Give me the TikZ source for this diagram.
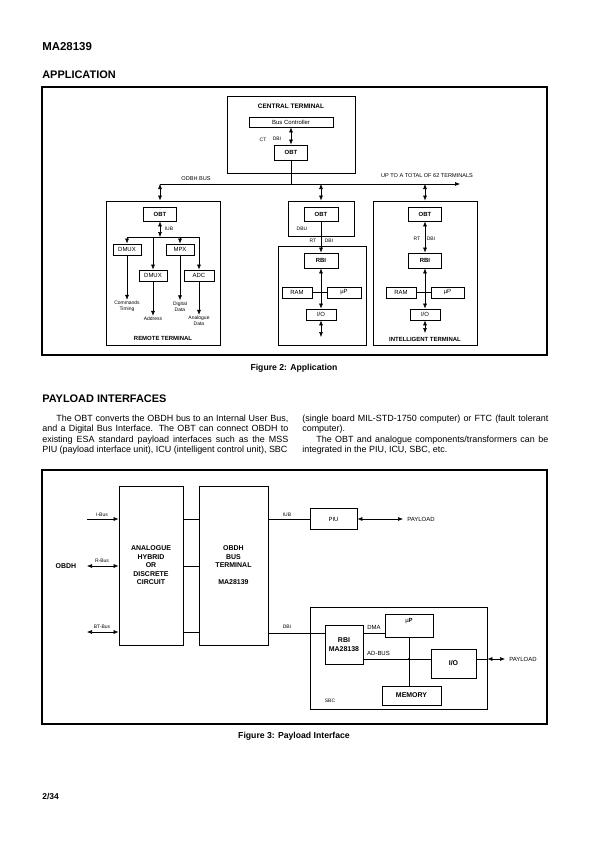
\documentclass[tikz,border=0pt]{standalone}
\usepackage{fontspec}
\setmainfont{Liberation Sans}
\usetikzlibrary{arrows.meta}

\tikzset{
  box/.style={draw, line width=0.8bp, inner sep=0pt},
  sz/.style 2 args={minimum width=#1bp, minimum height=#2bp},
  lbl/.style={inner sep=0pt, font=\fontsize{5}{6}\selectfont},
  buslbl/.style={inner sep=0pt, font=\fontsize{5.6}{6}\selectfont},
  tag/.style={inner sep=0pt, font=\fontsize{6}{7}\selectfont},
  btag/.style={inner sep=0pt, font=\fontsize{6}{7}\selectfont\bfseries},
  bigtag/.style={inner sep=0pt, font=\fontsize{7}{8.5}\selectfont\bfseries},
  ttl/.style={inner sep=0pt, anchor=west, font=\fontsize{11}{13}\selectfont\bfseries},
  figcap/.style={inner sep=0pt, font=\fontsize{8.7}{10}\selectfont\bfseries},
  txt/.style={inner sep=0pt, anchor=base west, text width=246bp, align=justify, font=\fontsize{9}{10.4}\selectfont},
  frame/.style={draw, line width=1.6bp},
  >={Latex[length=5bp,width=4bp]}
}

\begin{document}
\begin{tikzpicture}[x=1bp, y=-1bp, line width=0.6bp]
\useasboundingbox (0,0) rectangle (595,842);
\node[ttl, font=\fontsize{11.5}{13}\selectfont\bfseries] (head) at (42,47) {MA28139};
\node[ttl] (app) at (42,75) {APPLICATION};
\draw[frame] (42,87) rectangle (547,355);

\node[box, sz={128}{77}] (ct) at (291,134.5) {};
\node[btag, font=\fontsize{6.5}{7}\selectfont\bfseries] (ctl) at (291,106) {CENTRAL TERMINAL};
\node[box, sz={84}{10}, tag] (bc) at (291,122) {Bus Controller};
\node[box, sz={33}{15}, btag] (obtc) at (291,152.5) {OBT};
\draw[<->] (bc) -- (obtc);
\node[lbl] (ctc) at (263,139.5) {CT};
\node[lbl] (ctd) at (277,138.5) {DBI};
\coordinate (busl) at (160,184);
\coordinate (busr) at (460,184);
\draw (obtc) -- (obtc.south |- busl);
\draw[->] (busl) -- (busr);
\node[buslbl] (busn) at (196,178.5) {ODBH BUS};
\node[buslbl] (upto) at (427,176) {UP TO A TOTAL OF 62 TERMINALS};

\node[box, sz={114}{144}] (rt) at (163,273) {};
\node[box, sz={33}{14}, btag] (obtr) at (160,214) {OBT};
\draw[<->] (busl) -- (busl |- rt.north);
\coordinate (iub) at (160,237);
\draw[<->] (obtr) -- (iub);
\node[lbl] (iubl) at (169,229) {IUB};
\node[box, sz={28}{11}, tag] (dmuxa) at (127,249.5) {DMUX};
\node[box, sz={28}{11}, tag] (mpx) at (180,249.5) {MPX};
\node[box, sz={28}{11}, tag] (dmuxb) at (153,275.5) {DMUX};
\node[box, sz={30}{11}, tag] (adc) at (199,275.5) {ADC};
\draw (dmuxa.north |- iub) -- (adc.north |- iub);
\draw[->] (dmuxa.north |- iub) -- (dmuxa);
\draw[->] (dmuxb.north |- iub) -- (dmuxb);
\draw[->] (mpx.north |- iub) -- (mpx);
\draw[->] (adc.north |- iub) -- (adc);
\node[lbl, align=center, inner sep=1bp] (cmd) at (127,306.5) {Commands\\Timing};
\node[lbl, inner sep=1bp] (addr) at (153,319) {Address};
\node[lbl, align=center, inner sep=1bp] (digd) at (180,306.5) {Digital\\Data};
\node[lbl, align=center, inner sep=1bp] (anad) at (199,321) {Analogue\\Data};
\draw[->] (dmuxa) -- (cmd);
\draw[->] (dmuxb) -- (addr);
\draw[->] (mpx) -- (digd);
\draw[->] (adc) -- (anad);
\node[btag] (rtl) at (163,338.5) {REMOTE TERMINAL};

\node[box, sz={66}{35}] (mu) at (321,218.5) {};
\node[box, sz={34}{14}, btag] (obtm) at (321,214) {OBT};
\node[lbl] (dbu) at (302,228.5) {DBU};
\draw[<->] (busl -| obtm) -- (mu.north);
\node[box, sz={88}{99}] (ml) at (322,295.5) {};
\node[box, sz={34}{15}, btag] (rbim) at (321,260.5) {RBI};
\draw[->] (obtm) -- (rbim);
\node[lbl] (rtm) at (313,241) {RT};
\node[lbl] (dbim) at (329,241) {DBI};
\node[box, sz={30}{11}, tag] (ramm) at (297,292.5) {RAM};
\node[box, sz={34}{11}, tag] (upm) at (344,292.5) {µP};
\node[box, sz={30}{11}, tag] (iom) at (321,314.5) {I/O};
\draw (ramm) -- (upm);
\draw[<->] (rbim) -- (iom);
\coordinate (iomx) at (321,337);
\draw[<->] (iom) -- (iomx);

\node[box, sz={104}{144}] (it) at (425,273) {};
\node[box, sz={33}{14}, btag] (obti) at (425,214) {OBT};
\draw[<->] (busl -| obti) -- (it.north);
\node[box, sz={33}{15}, btag] (rbii) at (425,260.5) {RBI};
\draw[<->] (obti) -- (rbii);
\node[lbl] (rti) at (417,239) {RT};
\node[lbl] (dbii) at (431,239) {DBI};
\node[box, sz={30}{11}, tag] (rami) at (401,292.5) {RAM};
\node[box, sz={33}{11}, tag] (upi) at (447.5,292.5) {µP};
\node[box, sz={30}{11}, tag] (ioi) at (425,314.5) {I/O};
\draw (rami) -- (upi);
\draw[<->] (rbii) -- (ioi);
\coordinate (ioix) at (425,333);
\draw[<->] (ioi) -- (ioix);
\node[btag] (itl) at (425,339.5) {INTELLIGENT TERMINAL};

\node[figcap] (fig2) at (294,368) {Figure 2: Application};
\node[ttl] (pay) at (42,399) {PAYLOAD INTERFACES};
\node[txt] (cola) at (42,421.5) {\parfillskip=0pt\hspace*{14bp}The OBT converts the OBDH bus to an Internal User Bus,\linebreak and a Digital Bus Interface. The OBT can connect OBDH to\linebreak existing ESA standard payload interfaces such as the MSS\linebreak PIU (payload interface unit), ICU (intelligent control unit), SBC};
\node[txt] (colb) at (302,421.5) {(single board MIL-STD-1750 computer) or FTC (fault tolerant\linebreak computer).\\\hspace*{14bp}The OBT and analogue components/transformers can be\linebreak integrated in the PIU, ICU, SBC, etc.};

\draw[frame] (42,470) rectangle (547,724);
\node[box, sz={64}{159}, bigtag, align=center] (anah) at (151,565.5) {ANALOGUE\\HYBRID\\OR\\DISCRETE\\CIRCUIT};
\node[box, sz={69}{159}, bigtag, align=center] (obt3) at (233.5,565.5) {OBDH\\BUS\\TERMINAL\\[8.5bp]MA28139};
\coordinate (ibus) at (87,519);
\coordinate (rbus) at (87,566);
\coordinate (btbus) at (87,632);
\draw[->] (ibus) -- (ibus -| anah.west);
\draw[<->] (rbus) -- (rbus -| anah.west);
\draw[<->] (btbus) -- (btbus -| anah.west);
\draw (ibus -| anah.east) -- (ibus -| obt3.west);
\draw (rbus -| anah.east) -- (rbus -| obt3.west);
\draw (btbus -| anah.east) -- (btbus -| obt3.west);
\node[lbl] (ibl) at (102,515) {I-Bus};
\node[lbl] (rbl) at (102,561) {R-Bus};
\node[lbl] (btl) at (102,627) {BT-Bus};
\node[bigtag] (obdh) at (66,566) {OBDH};

\node[box, sz={47}{21}, tag] (piu) at (333.5,519) {PIU};
\draw (ibus -| obt3.east) -- (piu);
\node[lbl] (iubf) at (287,515) {IUB};
\node[tag, anchor=west, inner xsep=4bp] (payl) at (403,519) {PAYLOAD};
\draw[<->] (piu) -- (payl);

\node[box, sz={177}{102}] (sbc) at (398.5,658) {};
\node[box, sz={38}{39}, bigtag, align=center] (rbi3) at (344,644.5) {RBI\\MA28138};
\node[box, sz={48}{23}] (up3) at (409,625.5) {};
\node[tag] (up3t) at (409,621.5) {µ\textbf{P}};
\node[box, sz={45}{29}, bigtag] (io3) at (453.5,663.5) {I/O};
\node[box, sz={59}{19}, bigtag] (mem) at (411.5,695.5) {MEMORY};
\coordinate (dbi3) at (268,633);
\coordinate (adb) at (409,659);
\draw (obt3.east |- dbi3) -- (dbi3 -| rbi3.west);
\draw (dbi3 -| rbi3.east) -- (dbi3 -| up3.west);
\draw (adb -| rbi3.east) -- (adb -| io3.west);
\draw (up3.south) -- (up3.south |- mem.north);
\fill (adb) circle (1.2bp);
\node[lbl] (dbil) at (287,627) {DBI};
\node[tag] (dmal) at (374,627.5) {DMA};
\node[tag] (adbl) at (378.5,653) {AD-BUS};
\node[lbl] (sbcl) at (330,701) {SBC};
\node[tag, anchor=west, inner xsep=4bp] (pay2) at (505,659) {PAYLOAD};
\draw (adb -| io3.east) -- (adb -| sbc.east);
\draw[<->] (adb -| sbc.east) -- (pay2);

\node[figcap] (fig3) at (294,736) {Figure 3: Payload Interface};
\node[ttl, font=\fontsize{8.5}{10}\selectfont\bfseries] (pg) at (42,797) {2/34};
\end{tikzpicture}
\end{document}
